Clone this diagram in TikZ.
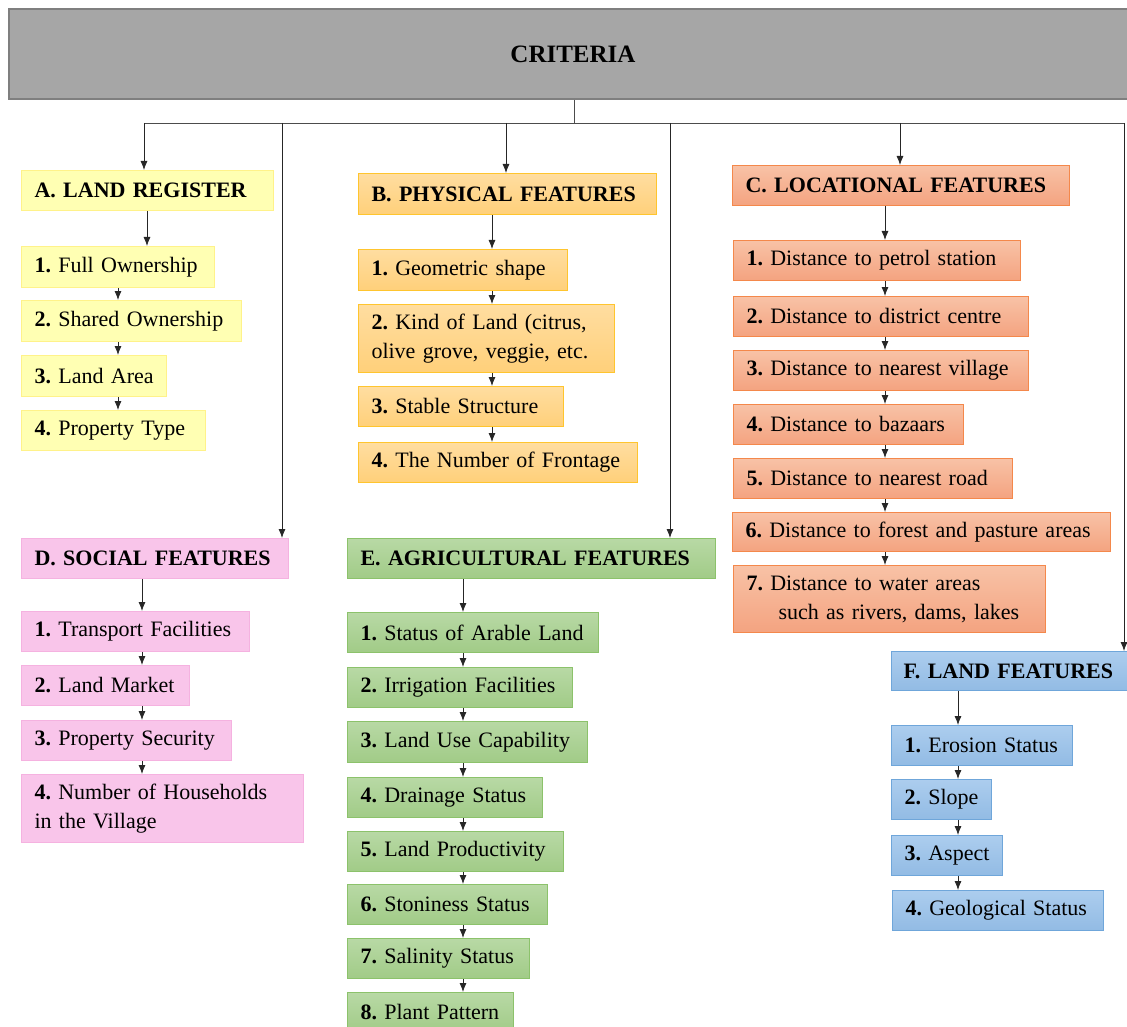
\documentclass[tikz,border=0pt]{standalone}
\usepackage{xcolor}
\usepackage{fontspec}
\setmainfont{Liberation Serif}
\usepackage{tikz}
\usetikzlibrary{arrows.meta}

\definecolor{critfill}{HTML}{A6A6A6}
\definecolor{critdraw}{HTML}{7F7F7F}
\definecolor{yelfill}{HTML}{FFFFB3}
\definecolor{yeldraw}{HTML}{FFF28A}
\definecolor{orgtop}{HTML}{FFDDA0}
\definecolor{orgbot}{HTML}{FFD07A}
\definecolor{orgdraw}{HTML}{FFC52E}
\definecolor{saltop}{HTML}{F8C2A6}
\definecolor{salbot}{HTML}{F4A380}
\definecolor{saldraw}{HTML}{F4884B}
\definecolor{pinkfill}{HTML}{F9C5EA}
\definecolor{pinkdraw}{HTML}{F5B2E0}
\definecolor{grntop}{HTML}{B8D9A5}
\definecolor{grnbot}{HTML}{A1CB87}
\definecolor{grndraw}{HTML}{8CC26B}
\definecolor{blutop}{HTML}{ACCDEE}
\definecolor{blubot}{HTML}{92BBE4}
\definecolor{bludraw}{HTML}{6FA6DA}

\begin{document}
\frenchspacing
\hyphenpenalty=10000
\exhyphenpenalty=10000
\begin{tikzpicture}[x=1pt, y=-1pt,
    box/.style={anchor=north west, draw, line width=1pt, inner xsep=13pt, inner ysep=0pt,
                align=left, font=\fontsize{22}{29}\selectfont},
    head/.style={box, font=\fontsize{22}{29}\selectfont\bfseries},
    landreg/.style={fill=yelfill, draw=yeldraw},
    physical/.style={top color=orgtop, bottom color=orgbot, draw=orgdraw},
    locational/.style={top color=saltop, bottom color=salbot, draw=saldraw},
    social/.style={fill=pinkfill, draw=pinkdraw},
    agric/.style={top color=grntop, bottom color=grnbot, draw=grndraw},
    landfeat/.style={top color=blutop, bottom color=blubot, draw=bludraw},
    arr/.style={-{Latex[length=9pt,width=7pt]}, line width=0.8pt, draw=black!85},
    link/.style={line width=0.8pt, draw=black!70}]

    \useasboundingbox (0,0) rectangle (1127,1027);

    % Criteria
    \node[anchor=north west, draw=critdraw, fill=critfill, line width=2pt,
          minimum width=1140pt, minimum height=90pt,
          font=\fontsize{25}{30}\selectfont\bfseries] (crit) at (8,8) {\hspace*{-6pt}CRITERIA\hspace*{6pt}};

    % A
    \node[head, landreg, text width=226pt, minimum height=40pt] (A) at (21,170) {A. LAND REGISTER};
    \node[box, landreg, text width=167pt, minimum height=41pt] (a1) at (21,246) {\textbf{1.} Full Ownership};
    \node[box, landreg, text width=194pt, minimum height=41pt] (a2) at (21,300) {\textbf{2.} Shared Ownership};
    \node[box, landreg, inner xsep=11pt, text width=123pt, minimum height=41pt] (a3) at (21,355) {\hspace*{2pt}\textbf{3.} Land Area};
    \node[box, landreg, text width=158pt, minimum height=40pt] (a4) at (21,410) {\textbf{4.} Property Type};

    % B
    \node[head, physical, text width=272pt, minimum height=41pt] (B) at (358,173) {B. PHYSICAL FEATURES};
    \node[box, physical, text width=183pt, minimum height=41pt] (b1) at (358,249) {\textbf{1.} Geometric shape};
    \node[box, physical, text width=230pt, minimum height=68pt] (b2) at (358,304) {\textbf{2.} Kind of Land (citrus,\\olive grove, veggie, etc.};
    \node[box, physical, text width=179pt, minimum height=40pt] (b3) at (358,386) {\textbf{3.} Stable Structure};
    \node[box, physical, text width=253pt, minimum height=40pt] (b4) at (358,442) {\textbf{4.} The Number of Frontage};

    % C
    \node[head, locational, text width=311pt, minimum height=40pt] (C) at (732,165) {C. LOCATIONAL FEATURES};
    \node[box, locational, text width=261pt, minimum height=40pt] (c1) at (733,240) {\textbf{1.} Distance to petrol station};
    \node[box, locational, text width=269pt, minimum height=40pt] (c2) at (733,296) {\textbf{2.} Distance to district centre};
    \node[box, locational, text width=269pt, minimum height=40pt] (c3) at (733,350) {\textbf{3.} Distance to nearest village};
    \node[box, locational, text width=204pt, minimum height=40pt] (c4) at (733,404) {\textbf{4.} Distance to bazaars};
    \node[box, locational, text width=253pt, minimum height=40pt] (c5) at (733,458) {\textbf{5.} Distance to nearest road};
    \node[box, locational, text width=352pt, minimum height=39pt] (c6) at (732,512) {\textbf{6.} Distance to forest and pasture areas};
    \node[box, locational, text width=286pt, minimum height=67pt] (c7) at (733,565) {\textbf{7.} Distance to water areas\\\hspace*{32pt}such as rivers, dams, lakes};

    % D
    \node[head, social, text width=241pt, minimum height=40pt] (D) at (21,538) {D. SOCIAL FEATURES};
    \node[box, social, text width=202pt, minimum height=40pt] (d1) at (21,611) {\textbf{1.} Transport Facilities};
    \node[box, social, text width=142pt, minimum height=40pt] (d2) at (21,665) {\textbf{2.} Land Market};
    \node[box, social, text width=184pt, minimum height=40pt] (d3) at (21,720) {\textbf{3.} Property Security};
    \node[box, social, text width=256pt, minimum height=68pt] (d4) at (21,774) {\textbf{4.} Number of Households\\in the Village};

    % E
    \node[head, agric, text width=342pt, minimum height=40pt] (E) at (347,538) {E. AGRICULTURAL FEATURES};
    \node[box, agric, text width=225pt, minimum height=40pt] (e1) at (347,612) {\textbf{1.} Status of Arable Land};
    \node[box, agric, text width=199pt, minimum height=40pt] (e2) at (347,667) {\textbf{2.} Irrigation Facilities};
    \node[box, agric, text width=214pt, minimum height=41pt] (e3) at (347,721) {\textbf{3.} Land Use Capability};
    \node[box, agric, text width=169pt, minimum height=40pt] (e4) at (347,777) {\textbf{4.} Drainage Status};
    \node[box, agric, text width=190pt, minimum height=40pt] (e5) at (347,831) {\textbf{5.} Land Productivity};
    \node[box, agric, text width=174pt, minimum height=40pt] (e6) at (347,884) {\textbf{6.} Stoniness Status};
    \node[box, agric, text width=156pt, minimum height=40pt] (e7) at (347,938) {\textbf{7.} Salinity Status};
    \node[box, agric, text width=140pt, minimum height=40pt] (e8) at (347,992) {\textbf{8.} Plant Pattern};

    % F
    \node[head, landfeat, inner xsep=12pt, text width=212pt, minimum height=39pt] (F) at (891,651) {F. LAND FEATURES};
    \node[box, landfeat, text width=155pt, minimum height=40pt] (f1) at (891,725) {\textbf{1.} Erosion Status};
    \node[box, landfeat, text width=74pt, minimum height=40pt] (f2) at (891,779) {\textbf{2.} Slope};
    \node[box, landfeat, text width=85pt, minimum height=40pt] (f3) at (891,835) {\textbf{3.} Aspect};
    \node[box, landfeat, text width=185pt, minimum height=40pt] (f4) at (892,890) {\textbf{4.} Geological Status};

    % Arrows
    \coordinate (bus) at (0,123);
    \coordinate (mid) at (574,0);
    \coordinate (ta) at (144,0);
    \coordinate (td) at (282,0);
    \coordinate (tb) at (506,0);
    \coordinate (te) at (670,0);
    \coordinate (tc) at (900,0);
    \coordinate (tf) at (1124,0);
    \coordinate (ax) at (118,0);
    \coordinate (hx) at (147,0);
    \coordinate (bx) at (492,0);
    \coordinate (cx) at (885,0);
    \coordinate (dx) at (142,0);
    \coordinate (ex) at (463,0);
    \coordinate (fx) at (958,0);

    \draw[link] (crit.south -| mid) -- (bus -| mid);
    \draw[link] (bus -| ta) -- (bus -| tf);
    \draw[arr] (bus -| ta) -- (A.north -| ta);
    \draw[arr] (bus -| td) -- (D.north -| td);
    \draw[arr] (bus -| tb) -- (B.north -| tb);
    \draw[arr] (bus -| te) -- (E.north -| te);
    \draw[arr] (bus -| tc) -- (C.north -| tc);
    \draw[arr] (bus -| tf) -- (F.north -| tf);

    \draw[arr] (A.south -| hx) -- (a1.north -| hx);
    \draw[arr] (a1.south -| ax) -- (a2.north -| ax);
    \draw[arr] (a2.south -| ax) -- (a3.north -| ax);
    \draw[arr] (a3.south -| ax) -- (a4.north -| ax);

    \draw[arr] (B.south -| bx) -- (b1.north -| bx);
    \draw[arr] (b1.south -| bx) -- (b2.north -| bx);
    \draw[arr] (b2.south -| bx) -- (b3.north -| bx);
    \draw[arr] (b3.south -| bx) -- (b4.north -| bx);

    \draw[arr] (C.south -| cx) -- (c1.north -| cx);
    \draw[arr] (c1.south -| cx) -- (c2.north -| cx);
    \draw[arr] (c2.south -| cx) -- (c3.north -| cx);
    \draw[arr] (c3.south -| cx) -- (c4.north -| cx);
    \draw[arr] (c4.south -| cx) -- (c5.north -| cx);
    \draw[arr] (c5.south -| cx) -- (c6.north -| cx);
    \draw[arr] (c6.south -| cx) -- (c7.north -| cx);

    \draw[arr] (D.south -| dx) -- (d1.north -| dx);
    \draw[arr] (d1.south -| dx) -- (d2.north -| dx);
    \draw[arr] (d2.south -| dx) -- (d3.north -| dx);
    \draw[arr] (d3.south -| dx) -- (d4.north -| dx);

    \draw[arr] (E.south -| ex) -- (e1.north -| ex);
    \draw[arr] (e1.south -| ex) -- (e2.north -| ex);
    \draw[arr] (e2.south -| ex) -- (e3.north -| ex);
    \draw[arr] (e3.south -| ex) -- (e4.north -| ex);
    \draw[arr] (e4.south -| ex) -- (e5.north -| ex);
    \draw[arr] (e5.south -| ex) -- (e6.north -| ex);
    \draw[arr] (e6.south -| ex) -- (e7.north -| ex);
    \draw[arr] (e7.south -| ex) -- (e8.north -| ex);

    \draw[arr] (F.south -| fx) -- (f1.north -| fx);
    \draw[arr] (f1.south -| fx) -- (f2.north -| fx);
    \draw[arr] (f2.south -| fx) -- (f3.north -| fx);
    \draw[arr] (f3.south -| fx) -- (f4.north -| fx);
\end{tikzpicture}
\end{document}
